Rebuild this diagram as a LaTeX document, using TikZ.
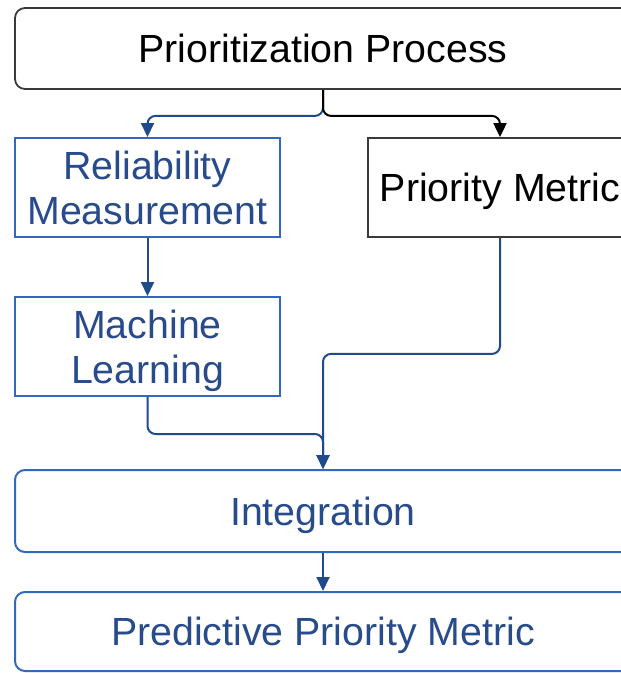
\documentclass[tikz,border=0pt]{standalone}
\usepackage{fontspec}
\setmainfont{Liberation Sans}
\usetikzlibrary{arrows.meta}
\definecolor{txtblue}{HTML}{284B8C}
\definecolor{boxblue}{HTML}{3468BE}
\definecolor{lineblue}{HTML}{1F4A8C}
\definecolor{darkline}{HTML}{3A3A3A}
\tikzset{
  x=1pt, y=-1pt,
  basebox/.style={inner sep=0pt, align=center, text depth=0pt, font=\fontsize{39.3}{45}\selectfont},
  blackbox/.style={basebox, draw=darkline, line width=1.8pt, text=black},
  bluebox/.style={basebox, draw=boxblue, line width=2pt, text=txtblue},
  rbox/.style={rounded corners=10pt},
  conn/.style={line width=2pt, rounded corners=8pt, -{Triangle[width=13pt,length=14pt]}},
  bconn/.style={conn, draw=lineblue},
  kconn/.style={conn, draw=black}
}
\begin{document}
\begin{tikzpicture}
\useasboundingbox (0,0) rectangle (621,673);
\clip (0,0) rectangle (621,673);
\node[blackbox, rbox, minimum width=616pt, minimum height=81pt] (top) at (323,48.5) {Prioritization Process};
\node[bluebox, minimum width=265pt, minimum height=99pt] (rel) at (147.5,187.5) {Reliability\\Measurement};
\node[blackbox, minimum width=264pt, minimum height=99pt] (pm) at (500,187.5) {Priority Metric};
\node[bluebox, minimum width=265pt, minimum height=99pt] (ml) at (147.5,346.5) {Machine\\Learning};
\node[bluebox, rbox, minimum width=616pt, minimum height=82pt] (int) at (323,511) {Integration};
\node[bluebox, rbox, minimum width=616pt, minimum height=79pt] (pred) at (323,631.5) {Predictive Priority Metric};
\draw[bconn] (top.south) -- ++(0,26) -| (rel.north);
\draw[kconn] (top.south) -- ++(0,26) -| (pm.north);
\draw[bconn] (rel.south) -- (ml.north);
\draw[bconn] (pm.south) -- ++(0,116) -| (int.north);
\draw[bconn] (ml.south) -- ++(0,37) -| (int.north);
\draw[bconn] (int.south) -- (pred.north);
\end{tikzpicture}
\end{document}
